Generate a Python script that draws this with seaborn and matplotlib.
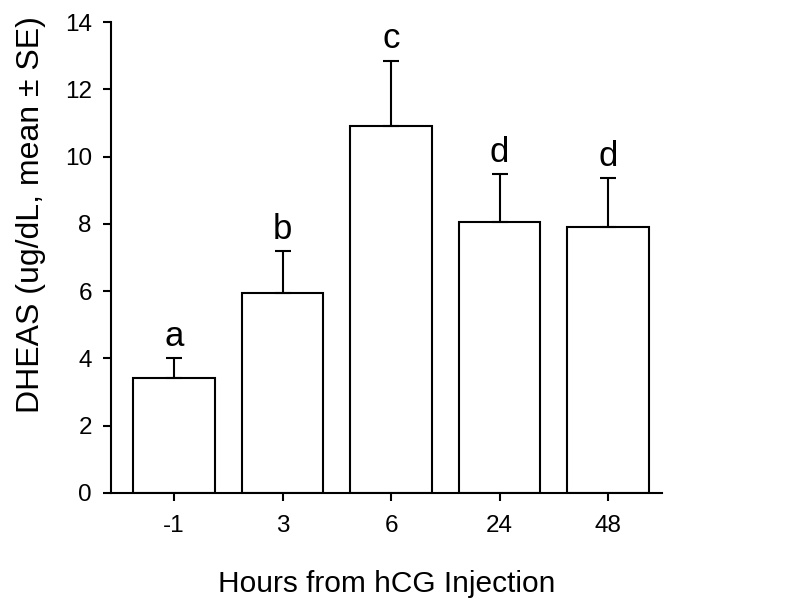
import pandas as pd
import matplotlib.pyplot as plt
import seaborn as sns

# Values
hours = ['-1', '3', '6', '24', '48']
dheas_mean = [3.42, 5.95, 10.92, 8.04, 7.92]
dheas_se = [0.58, 1.23, 1.93, 1.43, 1.43]
letters = ['a', 'b', 'c', 'd', 'd']

data = pd.DataFrame({'Hours': hours, 'DHEAS': dheas_mean, 'SE': dheas_se})

sns.set_style('ticks')
plt.rcParams['font.family'] = ['Liberation Sans', 'DejaVu Sans']
plt.rcParams.update({'text.color': 'black', 'axes.labelcolor': 'black',
                     'xtick.color': 'black', 'ytick.color': 'black',
                     'axes.edgecolor': 'black'})

fig = plt.figure(figsize=(8, 6.13), dpi=100)
ax = fig.add_axes([0.139, 0.196, 0.689, 0.768])

sns.barplot(data=data, x='Hours', y='DHEAS', order=hours, color='white',
            edgecolor='black', linewidth=1.5, width=0.75, errorbar=None, ax=ax)

# upper error bars only
ax.errorbar(range(len(hours)), data['DHEAS'], yerr=[[0] * len(hours), data['SE']],
            fmt='none', ecolor='black', elinewidth=1.5, capsize=5.5, capthick=1.5)

# significance letters
for i, (m, s, l) in enumerate(zip(dheas_mean, dheas_se, letters)):
    ax.annotate(l, (i, m + s), xytext=(0, 9), textcoords='offset points',
                ha='center', va='baseline', fontsize=25)

ax.set_ylim(0, 14)
ax.set_xlim(-0.58, 4.5)
ax.set_yticks(range(0, 15, 2))
ax.tick_params(axis='both', labelsize=17.5, width=1.5, length=6, direction='out')
ax.tick_params(axis='x', pad=10)
ax.tick_params(axis='y', pad=8)
ax.set_ylabel('DHEAS (ug/dL, mean \u00b1 SE)', fontsize=23)
ax.yaxis.set_label_coords(-0.118, 0.592)
ax.set_xlabel('Hours from hCG Injection', fontsize=21.5, labelpad=24)
for sp in ['left', 'bottom']:
    ax.spines[sp].set_linewidth(1.5)
sns.despine(ax=ax)

plt.savefig('out.png', dpi=100)
